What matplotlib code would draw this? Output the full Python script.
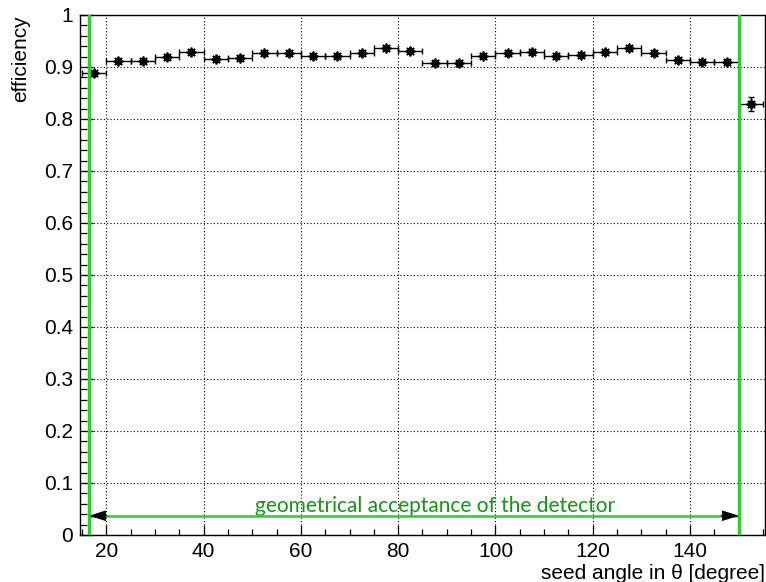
import matplotlib
matplotlib.use('Agg')
import matplotlib.pyplot as plt
import numpy as np

# binned efficiency vs seed angle (5 degree bins from 15 to 155)
bin_lo = np.arange(15, 155, 5)
eff = [0.888, 0.912, 0.912, 0.919, 0.928, 0.915, 0.917, 0.927, 0.927, 0.922,
       0.921, 0.927, 0.936, 0.931, 0.908, 0.908, 0.922, 0.926, 0.929, 0.921,
       0.923, 0.928, 0.937, 0.927, 0.913, 0.910, 0.909, 0.829]
eff_err = [0.005, 0.003, 0.003, 0.003, 0.003, 0.003, 0.003, 0.003, 0.003, 0.003,
           0.003, 0.003, 0.003, 0.003, 0.003, 0.003, 0.003, 0.003, 0.003, 0.003,
           0.003, 0.003, 0.003, 0.003, 0.003, 0.003, 0.004, 0.013]
acc_lo, acc_hi = 16.5, 150.0
label = 'geometrical acceptance of the detector'

line_green = '#2ecc2e'
text_green = '#169416'

plt.rcParams['font.family'] = ['Liberation Sans', 'DejaVu Sans']

fig = plt.figure(figsize=(7.66, 5.82), dpi=100)
ax = fig.add_axes([0.1044, 0.0808, 0.8943, 0.8935])

centers = bin_lo + 2.5
ax.errorbar(centers, eff, xerr=2.5, yerr=eff_err, fmt='none', ecolor='black',
            elinewidth=1.0, capsize=2, capthick=1.0, zorder=3)
ax.plot(centers, eff, ls='none', marker=(8, 2, 0), ms=7, mec='black', mew=1.3, zorder=4)

ax.axvline(acc_lo, color=line_green, lw=2.4, zorder=5)
ax.axvline(acc_hi, color=line_green, lw=2.4, zorder=5)

y_arr = 0.037
ax.plot([acc_lo, acc_hi], [y_arr, y_arr], color=line_green, lw=1.8, zorder=4)
for tip, tail in [(acc_lo, acc_lo + 3.7), (acc_hi, acc_hi - 3.7)]:
    ax.annotate('', xy=(tip, y_arr), xytext=(tail, y_arr),
                arrowprops=dict(arrowstyle='-|>,head_length=1.1,head_width=0.35',
                                color='black', lw=0.5, shrinkA=0, shrinkB=0), zorder=6)
ax.text(87.5, 0.044, label, color=text_green, fontsize=15, family=['Lato', 'DejaVu Sans'],
        ha='center', va='baseline')

ax.set_xlim(14.6, 155.4)
ax.set_ylim(0, 1)
ax.set_xticks(np.arange(20, 141, 20))
ax.set_xticks(np.arange(15, 156, 5), minor=True)
ax.set_yticks(np.arange(0, 1.01, 0.1))
ax.set_yticklabels(['0', '0.1', '0.2', '0.3', '0.4', '0.5', '0.6', '0.7', '0.8', '0.9', '1'])
ax.set_yticks(np.arange(0, 1.001, 0.02), minor=True)
ax.tick_params(which='both', direction='in', labelsize=15, width=0.9)
ax.tick_params(axis='x', which='major', length=7, pad=5)
ax.tick_params(axis='x', which='minor', length=4)
ax.tick_params(axis='y', which='major', length=9, pad=5)
ax.tick_params(axis='y', which='minor', length=5)
ax.grid(True, which='major', color='black', ls=(0, (1, 2)), lw=0.8)
for s in ax.spines.values():
    s.set_linewidth(1.0)

ax.set_xlabel('seed angle in θ [degree]', fontsize=15, ha='right', x=1.0, labelpad=2)
ax.set_ylabel('efficiency', fontsize=15, ha='right', y=1.0, labelpad=10)

fig.savefig('out.png', dpi=100)
